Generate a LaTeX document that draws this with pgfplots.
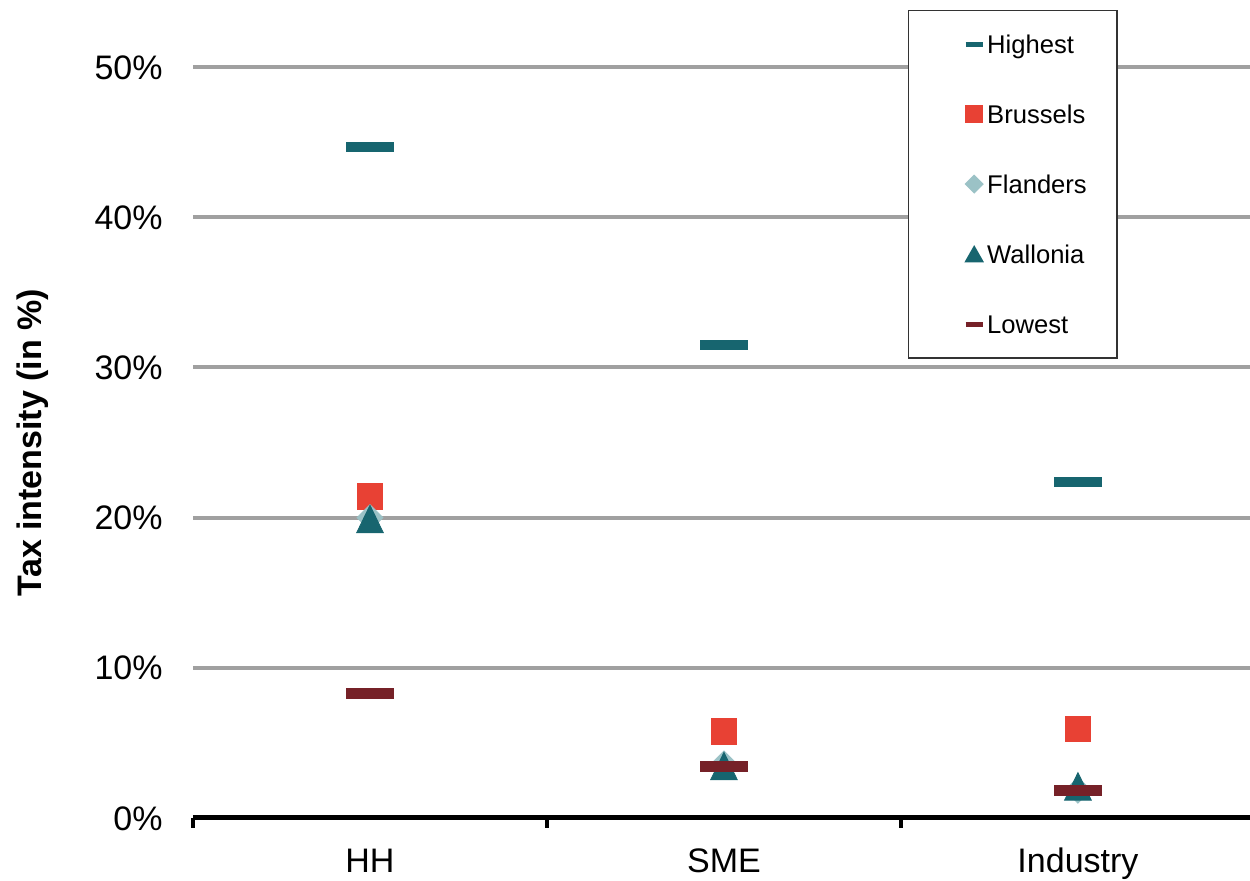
\documentclass[border=0pt]{standalone}
\usepackage{pgfplots}
\pgfplotsset{compat=1.18}
\usepackage{fontspec}
\setmainfont{Liberation Sans}
\definecolor{hi}{HTML}{17656F}
\definecolor{br}{HTML}{E84134}
\definecolor{fl}{HTML}{9BC2C6}
\definecolor{lo}{HTML}{762128}
\definecolor{gridgray}{HTML}{A0A0A0}
\begin{document}
\begin{tikzpicture}
\begin{axis}[
  scale only axis, width=528.5pt, height=375.5pt,
  xmin=-0.5, xmax=2.486, ymin=0, ymax=50,
  axis x line*=bottom, axis y line*=left,
  y axis line style={draw=none},
  x axis line style={black, line width=2.5pt},
  xtick={0,1,2}, xticklabels={HH,SME,Industry},
  ytick={0,10,20,30,40,50}, yticklabels={0\%,10\%,20\%,30\%,40\%,50\%},
  major tick length=0pt,
  extra x ticks={-0.5,0.5,1.5},
  extra x tick labels={},
  extra x tick style={major tick length=5pt, tick align=outside, tick style={black, line width=2pt}, grid=none},
  ymajorgrids, grid style={gridgray, line width=2pt},
  tick label style={font=\fontsize{17}{20}\selectfont},
  xticklabel style={anchor=north, inner sep=0pt, text height=12.2pt, yshift=-15pt},
  yticklabel style={anchor=base east, inner sep=0pt, xshift=-15pt, yshift=-6.1pt},
  ylabel={\bfseries Tax intensity (in \%)},
  every axis y label/.style={at={(axis description cs:-0.1429,0.5)}, rotate=90, anchor=base, font=\fontsize{17}{20}\selectfont},
  legend style={at={(axis description cs:0.6764,1.0765)}, anchor=north west, draw=black!80, line width=0.75pt, fill=white,
    font=\fontsize{12.8}{15}\selectfont, inner xsep=14pt, inner ysep=11pt, row sep=23.2pt, column sep=0pt,
    nodes={inner sep=1pt, text height=9.5pt, text depth=0.3pt}},
  legend cell align=left,
]
\addplot[only marks, color=hi, mark=-, mark size=12pt, mark options={line width=5pt, color=hi},
  legend image code/.code={\path[draw=none] (-14.5pt,0) -- (0pt,0); \draw[line width=2.5pt, color=hi] (0pt,0pt) -- (8.5pt,0pt);}]
  coordinates {(0,44.7) (1,31.5) (2,22.4)};
\addlegendentry{Highest}
\addplot[only marks, color=br, mark=square*, mark size=6.4pt, mark options={draw=none, fill=br}, 
  legend image code/.code={\path[draw=none] (-14.5pt,0) -- (0pt,0); \fill[br] (0pt,-4.25pt) rectangle (8.5pt,4.25pt);}]
  coordinates {(0,21.4) (1,5.76) (2,5.93)};
\addlegendentry{Brussels}
\addplot[only marks, color=fl, mark=diamond*, mark size=6.5pt, mark options={draw=none, fill=fl, xscale=1.333},
  legend image code/.code={\path[draw=none] (-14.5pt,0) -- (0pt,0); \fill[fl] (4.25pt,-4.25pt) -- (8.5pt,0pt) -- (4.25pt,4.25pt) -- (0pt,0pt) -- cycle;}]
  coordinates {(0,20.0) (1,3.6) (2,1.85)};
\addlegendentry{Flanders}
\addplot[only marks, color=hi, mark=triangle*, mark size=7.7pt, mark options={draw=none, fill=hi, yscale=1.19},
  legend image code/.code={\path[draw=none] (-14.5pt,0) -- (0pt,0); \fill[hi] (0pt,-3.75pt) -- (8.5pt,-3.75pt) -- (4.25pt,3.75pt) -- cycle;}]
  coordinates {(0,19.6) (1,3.15) (2,1.8)};
\addlegendentry{Wallonia}
\addplot[only marks, color=lo, mark=-, mark size=12pt, mark options={line width=5.5pt, color=lo},
  legend image code/.code={\path[draw=none] (-14.5pt,0) -- (0pt,0); \draw[line width=2.5pt, color=lo] (0pt,0pt) -- (8.5pt,0pt);}]
  coordinates {(0,8.3) (1,3.4) (2,1.86)};
\addlegendentry{Lowest}
\coordinate (bl) at (rel axis cs:0,0);
\coordinate (tr) at (rel axis cs:1,1);
\end{axis}
\pgfresetboundingbox
\path[use as bounding box] ([shift={(-96.5pt,-31.5pt)}]bl) rectangle ([shift={(0pt,33.5pt)}]tr);
\end{tikzpicture}
\end{document}
